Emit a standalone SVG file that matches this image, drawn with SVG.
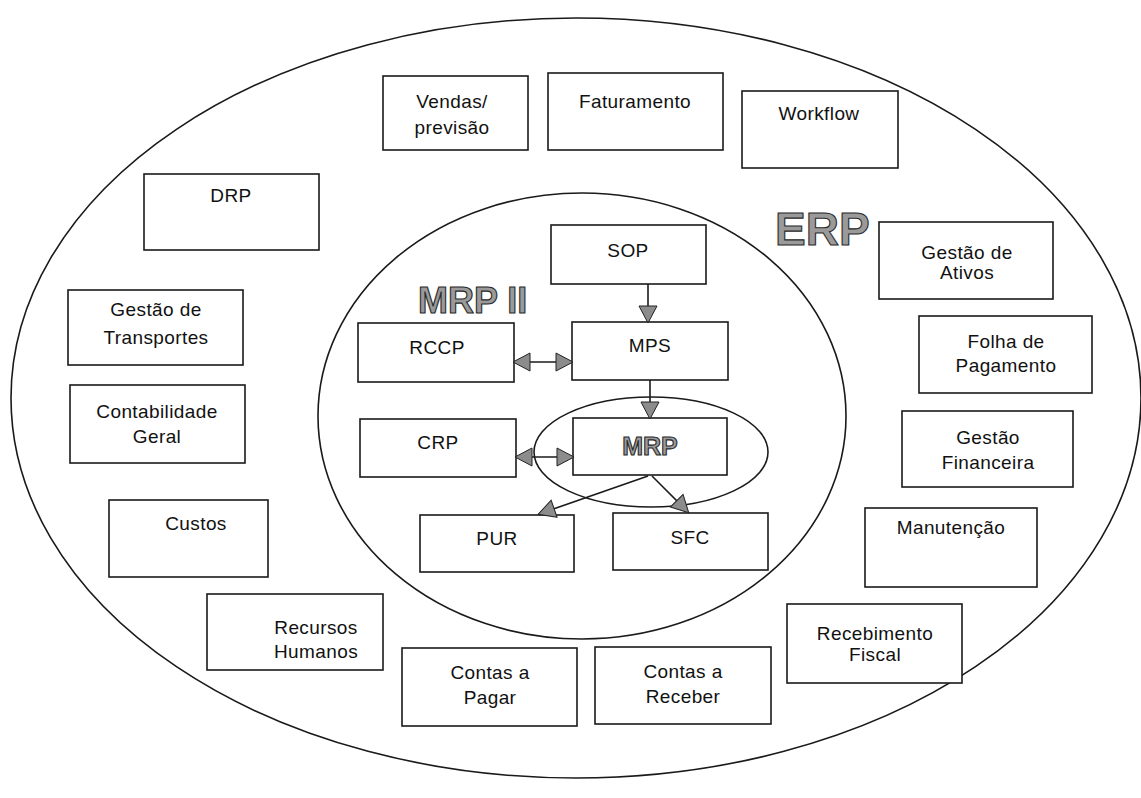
<svg xmlns="http://www.w3.org/2000/svg" width="1141" height="798" viewBox="0 0 1141 798">
  <style>
    .box { fill: #ffffff; stroke: #1a1a1a; stroke-width: 1.6; }
    .ring { fill: none; stroke: #1a1a1a; stroke-width: 1.6; }
    .lbl { font-family: "Liberation Sans", Arial, sans-serif; font-size: 19px; letter-spacing: 0.4px; text-anchor: middle; fill: #111111; }
    .title { font-family: "Liberation Sans", Arial, sans-serif; font-weight: bold; fill: #9a9a9a; stroke: #2a2a2a; stroke-width: 1.1; }
    .link { fill: none; stroke: #1a1a1a; stroke-width: 1.6; }
  </style>
  <defs>
    <marker id="head" markerUnits="userSpaceOnUse" markerWidth="22" markerHeight="22" refX="16" refY="9" orient="auto-start-reverse" overflow="visible">
      <path d="M0,0 L17,9 L0,18 Z" fill="#8c8c8c" stroke="#222222" stroke-width="1"/>
    </marker>
  </defs>

  <rect width="1141" height="798" fill="#ffffff"/>

  <!-- scope rings: ERP (outer), MRP II (middle), MRP (inner) -->
  <g id="rings">
    <ellipse id="erp-ring" class="ring" cx="576" cy="398" rx="565" ry="380"/>
    <ellipse id="mrp2-ring" class="ring" cx="582" cy="416" rx="264" ry="223"/>
    <ellipse id="mrp-ring" class="ring" cx="651" cy="452" rx="117" ry="55"/>
  </g>

  <text id="erp-title" class="title" x="775" y="245" font-size="46">ERP</text>
  <text id="mrp2-title" class="title" x="418" y="313" font-size="36">MRP II</text>

  <!-- ERP modules -->
  <g id="vendas"><rect class="box" x="383" y="76" width="145" height="74"/>
    <text class="lbl" x="452" y="108">Vendas/</text><text class="lbl" x="452" y="134">previsão</text></g>
  <g id="faturamento"><rect class="box" x="548" y="73" width="175" height="77"/>
    <text class="lbl" x="635" y="108">Faturamento</text></g>
  <g id="workflow"><rect class="box" x="742" y="91" width="156" height="77"/>
    <text class="lbl" x="819" y="120">Workflow</text></g>
  <g id="drp"><rect class="box" x="144" y="174" width="175" height="76"/>
    <text class="lbl" x="231" y="202">DRP</text></g>
  <g id="transportes"><rect class="box" x="68" y="290" width="175" height="75"/>
    <text class="lbl" x="156" y="316">Gestão de</text><text class="lbl" x="156" y="344">Transportes</text></g>
  <g id="contabilidade"><rect class="box" x="70" y="385" width="175" height="78"/>
    <text class="lbl" x="157" y="418">Contabilidade</text><text class="lbl" x="157" y="443">Geral</text></g>
  <g id="custos"><rect class="box" x="109" y="500" width="159" height="77"/>
    <text class="lbl" x="196" y="530">Custos</text></g>
  <g id="recursos"><rect class="box" x="207" y="594" width="176" height="76"/>
    <text class="lbl" x="316" y="634">Recursos</text><text class="lbl" x="316" y="658">Humanos</text></g>
  <g id="pagar"><rect class="box" x="402" y="648" width="175" height="78"/>
    <text class="lbl" x="490" y="679">Contas a</text><text class="lbl" x="490" y="704">Pagar</text></g>
  <g id="receber"><rect class="box" x="595" y="647" width="176" height="77"/>
    <text class="lbl" x="683" y="678">Contas a</text><text class="lbl" x="683" y="703">Receber</text></g>
  <g id="recebimento"><rect class="box" x="787" y="604" width="175" height="79"/>
    <text class="lbl" x="875" y="640">Recebimento</text><text class="lbl" x="875" y="661">Fiscal</text></g>
  <g id="ativos"><rect class="box" x="879" y="222" width="174" height="77"/>
    <text class="lbl" x="967" y="259">Gestão de</text><text class="lbl" x="967" y="279">Ativos</text></g>
  <g id="folha"><rect class="box" x="919" y="316" width="173" height="77"/>
    <text class="lbl" x="1006" y="348">Folha de</text><text class="lbl" x="1006" y="372">Pagamento</text></g>
  <g id="financeira"><rect class="box" x="902" y="411" width="171" height="76"/>
    <text class="lbl" x="988" y="444">Gestão</text><text class="lbl" x="988" y="469">Financeira</text></g>
  <g id="manutencao"><rect class="box" x="865" y="508" width="172" height="79"/>
    <text class="lbl" x="951" y="534">Manutenção</text></g>

  <!-- MRP II modules -->
  <g id="sop"><rect class="box" x="551" y="225" width="155" height="59"/>
    <text class="lbl" x="628" y="257">SOP</text></g>
  <g id="mps"><rect class="box" x="572" y="322" width="156" height="58"/>
    <text class="lbl" x="650" y="352">MPS</text></g>
  <g id="rccp"><rect class="box" x="358" y="323" width="156" height="59"/>
    <text class="lbl" x="437" y="354">RCCP</text></g>
  <g id="crp"><rect class="box" x="360" y="419" width="156" height="58"/>
    <text class="lbl" x="438" y="449">CRP</text></g>
  <g id="mrp"><rect class="box" x="573" y="418" width="154" height="57"/>
    <text class="title" x="650" y="455" font-size="25" text-anchor="middle">MRP</text></g>
  <g id="pur"><rect class="box" x="420" y="515" width="154" height="57"/>
    <text class="lbl" x="497" y="545">PUR</text></g>
  <g id="sfc"><rect class="box" x="613" y="513" width="155" height="57"/>
    <text class="lbl" x="690" y="544">SFC</text></g>

  <!-- connectors -->
  <g id="connectors">
    <path class="link" d="M648,284 L648,322" marker-end="url(#head)"/>
    <path class="link" d="M514,362 L572,362" marker-start="url(#head)" marker-end="url(#head)"/>
    <path class="link" d="M650,380 L650,418" marker-end="url(#head)"/>
    <path class="link" d="M516,457 L573,457" marker-start="url(#head)" marker-end="url(#head)"/>
    <path class="link" d="M648,476 L539,514" marker-end="url(#head)"/>
    <path class="link" d="M652,476 L688,512" marker-end="url(#head)"/>
  </g>
</svg>
